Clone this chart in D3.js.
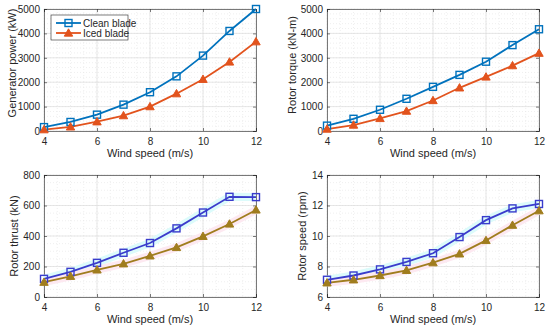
<!DOCTYPE html>
<html>
<head>
<meta charset="utf-8">
<script src="https://cdn.jsdelivr.net/npm/d3@7"></script>
<style>
  body { margin: 0; background: #fff; }
  svg text { font-family: "Liberation Sans", Arial, sans-serif; fill: #262626; }
</style>
</head>
<body>
<div id="chart"></div>
<script>
// wind speed, shared by all four panels
var windSpeed = [4, 5, 6, 7, 8, 9, 10, 11, 12];

var powerClean = [160, 370, 670, 1080, 1590, 2240, 3090, 4100, 5000];
var powerIced = [55, 170, 380, 630, 1000, 1530, 2120, 2830, 3660];

var torqueClean = [220, 500, 870, 1320, 1810, 2300, 2840, 3520, 4170];
var torqueIced = [80, 245, 515, 815, 1250, 1770, 2215, 2680, 3190];

var thrustClean = [119, 165, 224, 290, 354, 450, 554, 657, 655];
var thrustIced = [97, 136, 178, 218, 270, 325, 398, 479, 571];

var speedClean = [7.13, 7.41, 7.81, 8.30, 8.87, 9.93, 11.04, 11.81, 12.10];
var speedIced = [6.93, 7.13, 7.41, 7.75, 8.25, 8.83, 9.71, 10.71, 11.66];

var xTicks = [4, 6, 8, 10, 12];
var seriesNames = ["Clean blade", "Iced blade"];

var svg = d3.select("#chart").append("svg")
    .attr("width", 550)
    .attr("height", 330);

var panels = [
    {left: 44, top: 9, yLabel: "Generator power (kW)", yDomain: [0, 5000], yStep: 1000, yMinor: 200,
     clean: powerClean, iced: powerIced, labelX: 12, labelDy: -7, legend: true, style: "top"},
    {left: 327, top: 9, yLabel: "Rotor torque (kN-m)", yDomain: [0, 5000], yStep: 1000, yMinor: 200,
     clean: torqueClean, iced: torqueIced, labelX: 292, labelDy: -5, legend: false, style: "top"},
    {left: 44, top: 175, yLabel: "Rotor thrust (kN)", yDomain: [0, 800], yStep: 200, yMinor: 50,
     clean: thrustClean, iced: thrustIced, labelX: 14, labelDy: 0, legend: false, style: "bottom"},
    {left: 327, top: 175, yLabel: "Rotor speed (rpm)", yDomain: [6, 14], yStep: 2, yMinor: 0.5,
     clean: speedClean, iced: speedIced, labelX: 302, labelDy: 0, legend: false, style: "bottom"}
];

var colors = {
    top: {clean: "#0072BD", iced: "#E2531D", cleanHalo: null, icedHalo: null},
    bottom: {clean: "#3a3ccc", iced: "#a07d1e", cleanHalo: "#dcfbfb", icedHalo: "#fde9f1"}
};

var pw = 212, ph = 122;

function squareMark(g, x, y, col) {
    g.append("rect")
        .attr("x", x - 3.5).attr("y", y - 3.5)
        .attr("width", 7).attr("height", 7)
        .attr("fill", "none").attr("stroke", col).attr("stroke-width", 1.4);
}

function triMark(g, x, y, col) {
    var s = 4.2;
    g.append("path")
        .attr("d", "M" + x + "," + (y - s) + "L" + (x + s) + "," + (y + s * 0.75) + "L" + (x - s) + "," + (y + s * 0.75) + "Z")
        .attr("fill", col).attr("stroke", col).attr("stroke-width", 1);
}

panels.forEach(function(p) {
    var g = svg.append("g").attr("transform", "translate(" + p.left + "," + p.top + ")");

    var x = d3.scaleLinear().domain([4, 12]).range([0, pw]);
    var y = d3.scaleLinear().domain(p.yDomain).range([ph, 0]);

    // minor grid
    var xMinor = d3.range(4, 12.01, 0.5);
    var yMinor = d3.range(p.yDomain[0], p.yDomain[1] + p.yMinor / 2, p.yMinor);
    g.selectAll(".xminor").data(xMinor).enter().append("line")
        .attr("x1", function(d) { return x(d); }).attr("x2", function(d) { return x(d); })
        .attr("y1", 0).attr("y2", ph)
        .attr("stroke", "#e4e4e4").attr("stroke-width", 0.6).attr("stroke-dasharray", "1,2");
    g.selectAll(".yminor").data(yMinor).enter().append("line")
        .attr("x1", 0).attr("x2", pw)
        .attr("y1", function(d) { return y(d); }).attr("y2", function(d) { return y(d); })
        .attr("stroke", "#e4e4e4").attr("stroke-width", 0.6).attr("stroke-dasharray", "1,2");

    // major grid
    var yTicks = d3.range(p.yDomain[0], p.yDomain[1] + p.yStep / 2, p.yStep);
    g.selectAll(".xgrid").data(xTicks).enter().append("line")
        .attr("x1", function(d) { return x(d); }).attr("x2", function(d) { return x(d); })
        .attr("y1", 0).attr("y2", ph)
        .attr("stroke", "#dcdcdc").attr("stroke-width", 0.7);
    g.selectAll(".ygrid").data(yTicks).enter().append("line")
        .attr("x1", 0).attr("x2", pw)
        .attr("y1", function(d) { return y(d); }).attr("y2", function(d) { return y(d); })
        .attr("stroke", "#dcdcdc").attr("stroke-width", 0.7);

    // axes, ticks inward
    g.append("g").attr("transform", "translate(0," + ph + ")")
        .call(d3.axisBottom(x).tickValues(xTicks).tickSize(-3).tickPadding(7).tickFormat(d3.format("d")));
    g.append("g")
        .call(d3.axisLeft(y).tickValues(yTicks).tickSize(-3).tickPadding(4).tickFormat(d3.format("d")));
    g.append("g")
        .call(d3.axisTop(x).tickValues(xTicks).tickSize(-3).tickFormat(""));
    g.append("g").attr("transform", "translate(" + pw + ",0)")
        .call(d3.axisRight(y).tickValues(yTicks).tickSize(-3).tickFormat(""));
    g.selectAll(".domain").attr("stroke", "#262626").attr("stroke-width", 0.6);
    g.selectAll(".tick line").attr("stroke", "#262626").attr("stroke-width", 0.6);
    g.selectAll(".tick text").style("font-size", "10px").attr("fill", "#262626")
        .style("font-family", "'Liberation Sans', Arial, sans-serif");

    // labels
    g.append("text")
        .attr("x", pw / 2).attr("y", ph + 26)
        .attr("text-anchor", "middle")
        .style("font-size", "11px")
        .text("Wind speed (m/s)");
    svg.append("text")
        .attr("transform", "translate(" + (p.labelX + 4) + "," + (p.top + ph / 2 + p.labelDy) + ") rotate(-90)")
        .attr("text-anchor", "middle")
        .style("font-size", "11px")
        .text(p.yLabel);

    var c = colors[p.style];
    var line = d3.line()
        .x(function(d, i) { return x(windSpeed[i]); })
        .y(function(d) { return y(d); });

    // faint halos on the bottom panels
    if (c.cleanHalo) {
        g.append("path").datum(p.clean).attr("d", line)
            .attr("fill", "none").attr("stroke", c.cleanHalo).attr("stroke-width", 8);
        g.append("path").datum(p.iced).attr("d", line)
            .attr("fill", "none").attr("stroke", c.icedHalo).attr("stroke-width", 8);
    }

    g.append("path").datum(p.clean).attr("d", line)
        .attr("fill", "none").attr("stroke", c.clean).attr("stroke-width", 1.8);
    g.append("path").datum(p.iced).attr("d", line)
        .attr("fill", "none").attr("stroke", c.iced).attr("stroke-width", 1.8);

    p.clean.forEach(function(d, i) { squareMark(g, x(windSpeed[i]), y(d), c.clean); });
    p.iced.forEach(function(d, i) { triMark(g, x(windSpeed[i]), y(d), c.iced); });

    if (p.legend) {
        var lg = g.append("g").attr("transform", "translate(7,6)");
        lg.append("rect").attr("width", 77).attr("height", 25)
            .attr("fill", "#fff").attr("stroke", "#262626").attr("stroke-width", 0.6);
        [0, 1].forEach(function(k) {
            var yy = 8 + k * 10;
            var col = k === 0 ? c.clean : c.iced;
            lg.append("line").attr("x1", 5).attr("x2", 30).attr("y1", yy).attr("y2", yy)
                .attr("stroke", col).attr("stroke-width", 1.8);
            if (k === 0) squareMark(lg, 17.5, yy, col); else triMark(lg, 17.5, yy, col);
            lg.append("text").attr("x", 32).attr("y", yy + 3.5)
                .style("font-size", "10px").text(seriesNames[k]);
        });
    }
});
</script>
</body>
</html>
